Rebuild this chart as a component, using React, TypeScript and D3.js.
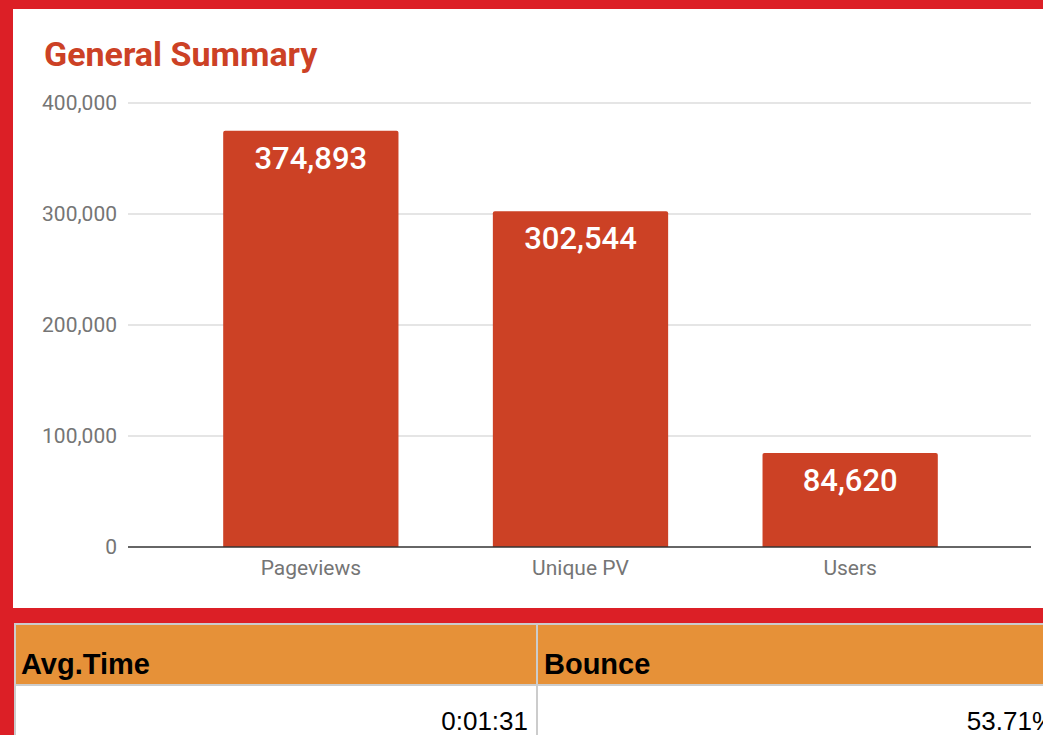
import React from "react";
import * as d3 from "d3";

const categories = ["Pageviews", "Unique PV", "Users"];
const values = [374893, 302544, 84620];
const yTicks = [0, 100000, 200000, 300000, 400000];
const tableHeaders = ["Avg.Time", "Bounce"];
const tableValues = ["0:01:31", "53.71%"];

const W = 1043;
const H = 735;

export default function App() {
  const y = d3.scaleLinear().domain([0, 400000]).range([547, 103]);
  const x = d3.scaleBand().domain(categories).range([176, 985]).paddingInner(0.35).paddingOuter(0.175);
  const fmt = d3.format(",");
  const barColor = "#CC4125";
  const colX = [14, 537, 1060];
  return (
    <svg width={W} height={H} style={{ position: "absolute", left: 0, top: 0 }} xmlns="http://www.w3.org/2000/svg">
      <rect x={0} y={0} width={W} height={H} fill="#DC1F26" />
      <rect x={13} y={9} width={W} height={599} fill="#ffffff" />
      <text x={44} y={66} fontFamily="Roboto" fontWeight="bold" fontSize={34} fill={barColor}>General Summary</text>
      {yTicks.map((t) => (
        <g key={t}>
          {t !== 0 && <line x1={128} x2={1031} y1={y(t)} y2={y(t)} stroke="#cccccc" strokeWidth={1.2} />}
          <text x={117} y={y(t) + 7} textAnchor="end" fontFamily="Roboto" fontSize={21} fill="#757575">{fmt(t)}</text>
        </g>
      ))}
      {categories.map((c, i) => {
        const bx = x(c)!;
        const bw = x.bandwidth();
        const top = y(values[i]);
        const r = 2;
        const base = y(0);
        const d = `M${bx},${base} L${bx},${top + r} Q${bx},${top} ${bx + r},${top} L${bx + bw - r},${top} Q${bx + bw},${top} ${bx + bw},${top + r} L${bx + bw},${base} Z`;
        return (
          <g key={c}>
            <path d={d} fill={barColor} />
            <text x={bx + bw / 2} y={top + 38} textAnchor="middle" fontFamily="Roboto" fontWeight={500} fontSize={31} fill="#ffffff">{fmt(values[i])}</text>
            <text x={bx + bw / 2} y={575} textAnchor="middle" fontFamily="Roboto" fontSize={21} fill="#757575">{c}</text>
          </g>
        );
      })}
      <line x1={128} x2={1031} y1={y(0)} y2={y(0)} stroke="#333333" strokeWidth={1.5} />

      {/* table */}
      <rect x={14} y={623} width={W} height={H - 623} fill="#ffffff" />
      <rect x={14} y={623} width={W} height={62} fill="#E69138" />
      <line x1={14} x2={W} y1={624} y2={624} stroke="#cccccc" strokeWidth={2} />
      <line x1={14} x2={W} y1={685} y2={685} stroke="#cccccc" strokeWidth={2} />
      <line x1={15} x2={15} y1={623} y2={H} stroke="#cccccc" strokeWidth={2} />
      <line x1={537} x2={537} y1={623} y2={H} stroke="#cccccc" strokeWidth={2} />
      {tableHeaders.map((h, i) => (
        <text key={h} x={colX[i] + 7} y={674} fontFamily="Liberation Sans, Arial" fontWeight="bold" fontSize={29} fill="#000000">{h}</text>
      ))}
      {tableValues.map((v, i) => (
        <text key={v} x={colX[i + 1] - 9 + (i === 1 ? 4 : 0)} y={730} textAnchor="end" fontFamily="Liberation Sans, Arial" fontSize={26} fill="#000000">{v}</text>
      ))}
    </svg>
  );
}
